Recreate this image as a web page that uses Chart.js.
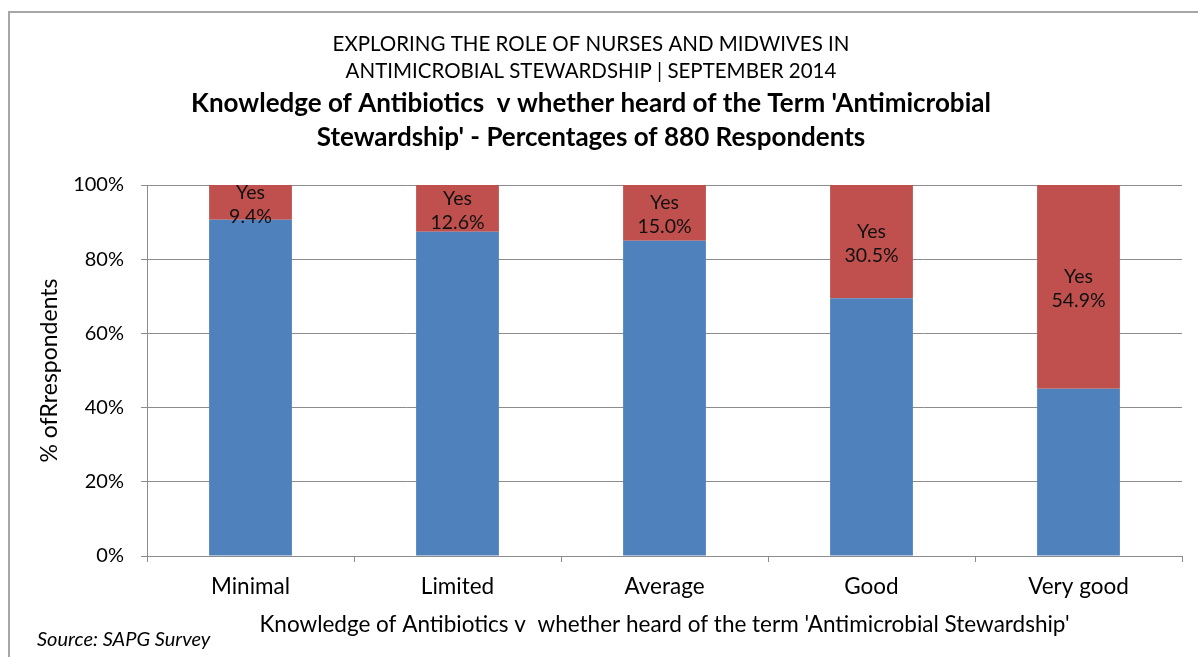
<!DOCTYPE html>
<html>
<head>
<meta charset="utf-8">
<script src="https://cdn.jsdelivr.net/npm/chart.js@4"></script>
<style>
  html, body { margin: 0; padding: 0; background: #fff; overflow: hidden; }
  #wrap { position: absolute; left: 0; top: 0; width: 1198px; height: 657px; }
  #frame { position: absolute; left: 8px; top: 11px; width: 1300px; height: 700px;
           border: 2px solid #a6a6a6; pointer-events: none; }
</style>
</head>
<body>
<div id="wrap"><canvas id="chart"></canvas></div>
<div id="frame"></div>
<script>
const categories = ["Minimal", "Limited", "Average", "Good", "Very good"];
const yesPct = [9.4, 12.6, 15.0, 30.5, 54.9];
const noPct = [90.6, 87.4, 85.0, 69.5, 45.1];
const yTicks = [0, 20, 40, 60, 80, 100];

const FONT = "Lato, 'Open Sans', sans-serif";
const gridGray = "#8c8c8c";

// "Yes" + percentage written in the middle of each red segment
const yesLabels = {
    id: "yesLabels",
    afterDatasetsDraw(chart) {
        const meta = chart.getDatasetMeta(1);
        const ctx = chart.ctx;
        ctx.save();
        ctx.font = "19.5px " + FONT;
        ctx.fillStyle = "#111";
        ctx.textAlign = "center";
        ctx.textBaseline = "middle";
        meta.data.forEach((bar, i) => {
            const p = bar.getProps(["x", "y", "base"], true);
            const mid = (p.y + p.base) / 2 + 2;
            ctx.fillText("Yes", p.x, mid - 12);
            ctx.fillText(yesPct[i].toFixed(1) + "%", p.x, mid + 12);
        });
        ctx.restore();
    }
};

const sourceNote = {
    id: "sourceNote",
    afterDraw(chart) {
        const ctx = chart.ctx;
        ctx.save();
        ctx.font = "italic 20px " + FONT;
        ctx.fillStyle = "#000";
        ctx.textAlign = "left";
        ctx.textBaseline = "middle";
        ctx.fillText("Source: SAPG Survey", 37, 640);
        ctx.restore();
    }
};

new Chart(document.getElementById("chart"), {
    type: "bar",
    data: {
        labels: categories,
        datasets: [
            {label: "No", data: noPct, backgroundColor: "#4f81bd", barPercentage: 0.4, categoryPercentage: 1},
            {label: "Yes", data: yesPct, backgroundColor: "#c0504d", barPercentage: 0.4, categoryPercentage: 1}
        ]
    },
    options: {
        responsive: true,
        maintainAspectRatio: false,
        animation: false,
        layout: {padding: {left: 0, right: 16, top: 0, bottom: 0}},
        plugins: {
            legend: {display: false},
            tooltip: {enabled: false},
            title: {
                display: true,
                text: ["EXPLORING THE ROLE OF NURSES AND MIDWIVES IN", "ANTIMICROBIAL STEWARDSHIP | SEPTEMBER 2014"],
                color: "#000",
                font: {family: FONT, size: 20.5, weight: "normal", lineHeight: "27px"},
                padding: {top: 30.5, bottom: 0}
            },
            subtitle: {
                display: true,
                text: ["Knowledge of Antibiotics  v whether heard of the Term 'Antimicrobial", "Stewardship' - Percentages of 880 Respondents"],
                color: "#000",
                font: {family: FONT, size: 26, weight: "bold", lineHeight: "34px"},
                padding: {top: 2.5, bottom: 30}
            }
        },
        scales: {
            x: {
                stacked: true,
                afterFit: s => { s.height = 101; },
                grid: {display: true, offset: true, drawOnChartArea: false, drawTicks: true, tickLength: 6, color: gridGray},
                border: {display: true, color: gridGray, width: 1},
                ticks: {color: "#000", font: {family: FONT, size: 22.5}, padding: 11},
                title: {
                    display: true,
                    text: "Knowledge of Antibiotics v  whether heard of the term 'Antimicrobial Stewardship'",
                    color: "#000",
                    font: {family: FONT, size: 22.5, lineHeight: "24px"},
                    padding: {top: 0, bottom: 20}
                }
            },
            y: {
                stacked: true,
                min: 0,
                max: 100,
                afterFit: s => { s.width = 147; },
                afterBuildTicks: s => { s.ticks = yTicks.map(v => ({value: v})); },
                grid: {color: gridGray, drawTicks: true, tickLength: 6, lineWidth: 1},
                border: {display: true, color: gridGray, width: 1},
                ticks: {color: "#000", font: {family: FONT, size: 20}, padding: 17, callback: v => v + "%"},
                title: {
                    display: true,
                    text: "% ofRrespondents",
                    color: "#000",
                    font: {family: FONT, size: 23, lineHeight: "24px"},
                    padding: {top: 38, bottom: 0}
                }
            }
        }
    },
    plugins: [yesLabels, sourceNote]
});
</script>
</body>
</html>
